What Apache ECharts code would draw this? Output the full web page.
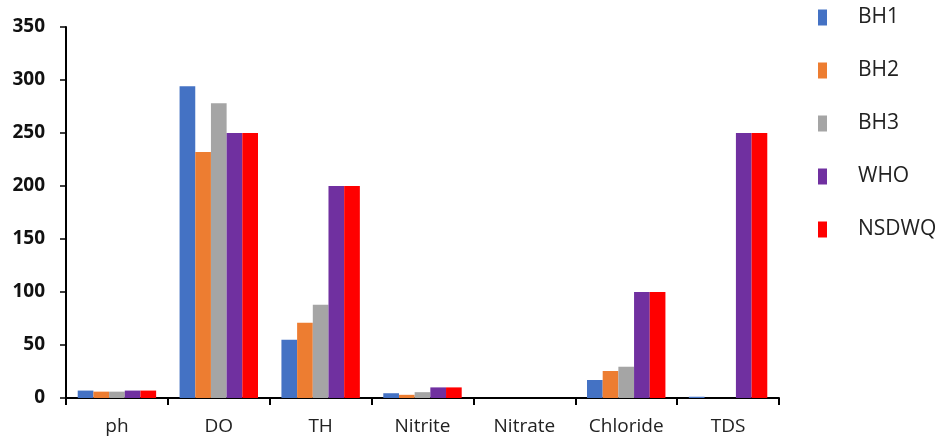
<!DOCTYPE html>
<html>
<head>
<meta charset="utf-8">
<script src="https://cdn.jsdelivr.net/npm/echarts@6/dist/echarts.min.js"></script>
<style>
  html, body { margin: 0; padding: 0; background: #fff; }
  #chart { width: 943px; height: 443px; }
</style>
</head>
<body>
<div id="chart"></div>
<script>
// Water quality parameters for three boreholes against WHO and NSDWQ limits
const categories = ['ph', 'DO', 'TH', 'Nitrite', 'Nitrate', 'Chloride', 'TDS'];
const seriesNames = ['BH1', 'BH2', 'BH3', 'WHO', 'NSDWQ'];
const bh1 = [7, 294, 55, 4.5, 0, 17, 1.2];
const bh2 = [6, 232, 71, 3, 0, 25.5, 0];
const bh3 = [6, 278, 88, 5.5, 0, 29.5, 0];
const who = [7, 250, 200, 10, 0, 100, 250];
const nsdwq = [7, 250, 200, 10, 0, 100, 250];
const yTicks = [0, 50, 100, 150, 200, 250, 300, 350];
const colors = ['#4472C4', '#ED7D31', '#A5A5A5', '#7030A0', '#FF0000'];

const values = [bh1, bh2, bh3, who, nsdwq];
const font = '"Open Sans", "Liberation Sans", sans-serif';

const chart = echarts.init(document.getElementById('chart'));
chart.setOption({
  animation: false,
  backgroundColor: '#ffffff',
  color: colors,
  grid: { left: 66, right: 164, top: 27, bottom: 45, containLabel: false },
  legend: {
    orient: 'vertical',
    left: 813,
    top: 2,
    itemWidth: 9,
    itemHeight: 16,
    itemGap: 32,
    icon: 'rect',
    data: seriesNames,
    textStyle: { fontFamily: font, fontSize: 21, color: '#222', padding: [0, 0, 0, 26] }
  },
  xAxis: {
    type: 'category',
    data: categories,
    axisLine: { lineStyle: { color: '#000', width: 2 } },
    axisTick: { show: true, length: 7, lineStyle: { color: '#000', width: 2 } },
    axisLabel: { fontFamily: font, fontSize: 19, color: '#222', margin: 19 }
  },
  yAxis: {
    type: 'value',
    min: yTicks[0],
    max: yTicks[yTicks.length - 1],
    interval: 50,
    splitLine: { show: false },
    axisLine: { show: true, lineStyle: { color: '#000', width: 2 } },
    axisTick: { show: true, length: 6, lineStyle: { color: '#000', width: 1.5 } },
    axisLabel: { fontFamily: font, fontSize: 19, fontWeight: 'bold', color: '#111', margin: 21 }
  },
  series: seriesNames.map((name, i) => ({
    name: name,
    type: 'bar',
    data: values[i],
    barGap: '0%',
    barCategoryGap: '23%',
    itemStyle: { color: colors[i] }
  }))
});
</script>
</body>
</html>
